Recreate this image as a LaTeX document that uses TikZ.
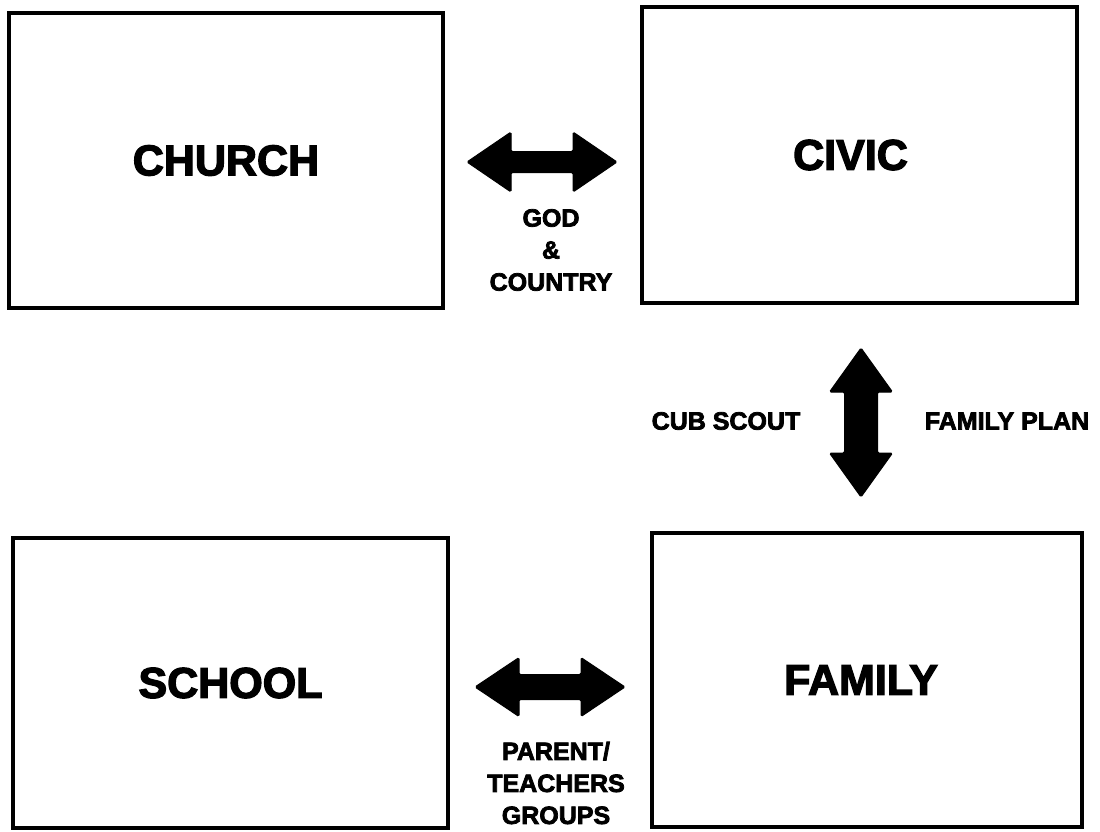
\documentclass[tikz,border=0pt]{standalone}
\usepackage{fontspec}
\newfontfamily\heavy{Liberation Sans Bold}[FakeBold=3]
\begin{document}
\begin{tikzpicture}[x=1pt,y=-1pt,
  box/.style={draw=black,line width=3.5pt,rectangle,inner sep=0pt,
    font=\heavy\fontsize{43}{43}\selectfont},
  lbl/.style={inner sep=0pt,align=center,font=\heavy\fontsize{25}{32}\selectfont},
  bigarrow/.style={fill=black,draw=black,line width=1pt,rounded corners=1.5pt}]
\useasboundingbox (0,0) rectangle (1100,831);
% boxes
\node[box,minimum width=434pt,minimum height=295pt] (church) at (226,160.5) {CHURCH};
\node[box,minimum width=435pt,minimum height=296pt] (civic) at (859.5,155) {\hspace*{-18pt}CIVIC};
\node[box,minimum width=435pt,minimum height=290pt] (school) at (230.5,683) {SCHOOL};
\node[box,minimum width=430pt,minimum height=294pt] (family) at (867,680) {\hspace*{-12pt}FAMILY};
% arrow anchor points
\coordinate (a1) at (542,162);
\coordinate (a2) at (861,422.5);
\coordinate (a3) at (550,687);
% top horizontal double arrow (church <-> civic)
\fill[bigarrow] (a1) ++(-75,0) -- ++(44,-30) -- ++(0,19.5) -- ++(62,0) -- ++(0,-19.5)
  -- ++(44,30) -- ++(-44,30) -- ++(0,-19.5) -- ++(-62,0) -- ++(0,19.5) -- cycle;
% vertical double arrow (civic <-> family)
\fill[bigarrow] (a2) ++(0,-74.5) -- ++(31.5,44) -- ++(-15,0) -- ++(0,61) -- ++(15,0)
  -- ++(-31.5,44) -- ++(-31.5,-44) -- ++(15,0) -- ++(0,-61) -- ++(-15,0) -- cycle;
% bottom horizontal double arrow (school <-> family)
\fill[bigarrow] (a3) ++(-75,0) -- ++(44,-29.5) -- ++(0,17) -- ++(62,0) -- ++(0,-17)
  -- ++(44,29.5) -- ++(-44,29.5) -- ++(0,-17) -- ++(-62,0) -- ++(0,17) -- cycle;
% labels
\node[lbl] (godc) at (551,250) {GOD\\\&\\COUNTRY};
\node[lbl] (cub) at (726,421) {CUB SCOUT};
\node[lbl] (fplan) at (1007,421) {FAMILY PLAN};
\node[lbl] (ptg) at (556,783) {PARENT/\\TEACHERS\\GROUPS};
\end{tikzpicture}
\end{document}
